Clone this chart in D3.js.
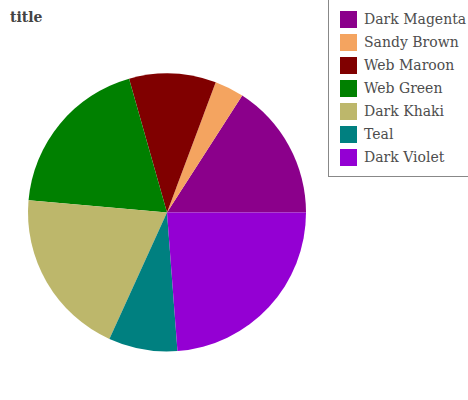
<!DOCTYPE html>
<html><head><meta charset="utf-8">
<script src="https://cdn.jsdelivr.net/npm/d3@7"></script>
<style>body{margin:0;background:#fff}svg{display:block}</style>
</head><body>
<svg id="c" width="468" height="400"></svg>
<script>
const categories = ["Dark Magenta","Sandy Brown","Web Maroon","Web Green","Dark Khaki","Teal","Dark Violet"];
const values = [15.9, 3.4, 10.1, 19.2, 19.6, 8.0, 23.8];
const colors = ["#8B008B","#F4A460","#800000","#008000","#BDB76B","#008080","#9400D3"];
const title = "title";

const svg = d3.select("#c");
const cx = 167, cy = 212.5, r = 139;
const pie = d3.pie().sort(null).value(d => d.v)
  .startAngle(Math.PI/2).endAngle(Math.PI/2 - 2*Math.PI);
const data = categories.map((c,i)=>({c, v: values[i], col: colors[i]}));
const arc = d3.arc().innerRadius(0).outerRadius(r);
svg.append("g").attr("transform",`translate(${cx},${cy})`)
  .selectAll("path").data(pie(data)).join("path")
  .attr("d", arc).attr("fill", d => d.data.col);

svg.append("text").attr("x",10).attr("y",22)
  .attr("font-family","DejaVu Serif").attr("font-weight","bold")
  .attr("font-size",14).attr("fill","#444").text(title);

const lg = svg.append("g");
lg.append("rect").attr("x",328.5).attr("y",-5).attr("width",150).attr("height",181.5)
  .attr("fill","none").attr("stroke","#888").attr("stroke-width",1);
const y = d3.scaleBand().domain(categories).range([8, 169]);
const rows = lg.selectAll("g.row").data(data).join("g").attr("class","row")
  .attr("transform", d => `translate(0,${y(d.c)})`);
rows.append("rect").attr("x",340).attr("y",3).attr("width",17).attr("height",17)
  .attr("fill", d => d.col);
rows.append("text").attr("x",364).attr("y",16)
  .attr("font-family","DejaVu Serif").attr("font-size",14).attr("fill","#4d4d4d")
  .text(d => d.c);
</script>
</body></html>
